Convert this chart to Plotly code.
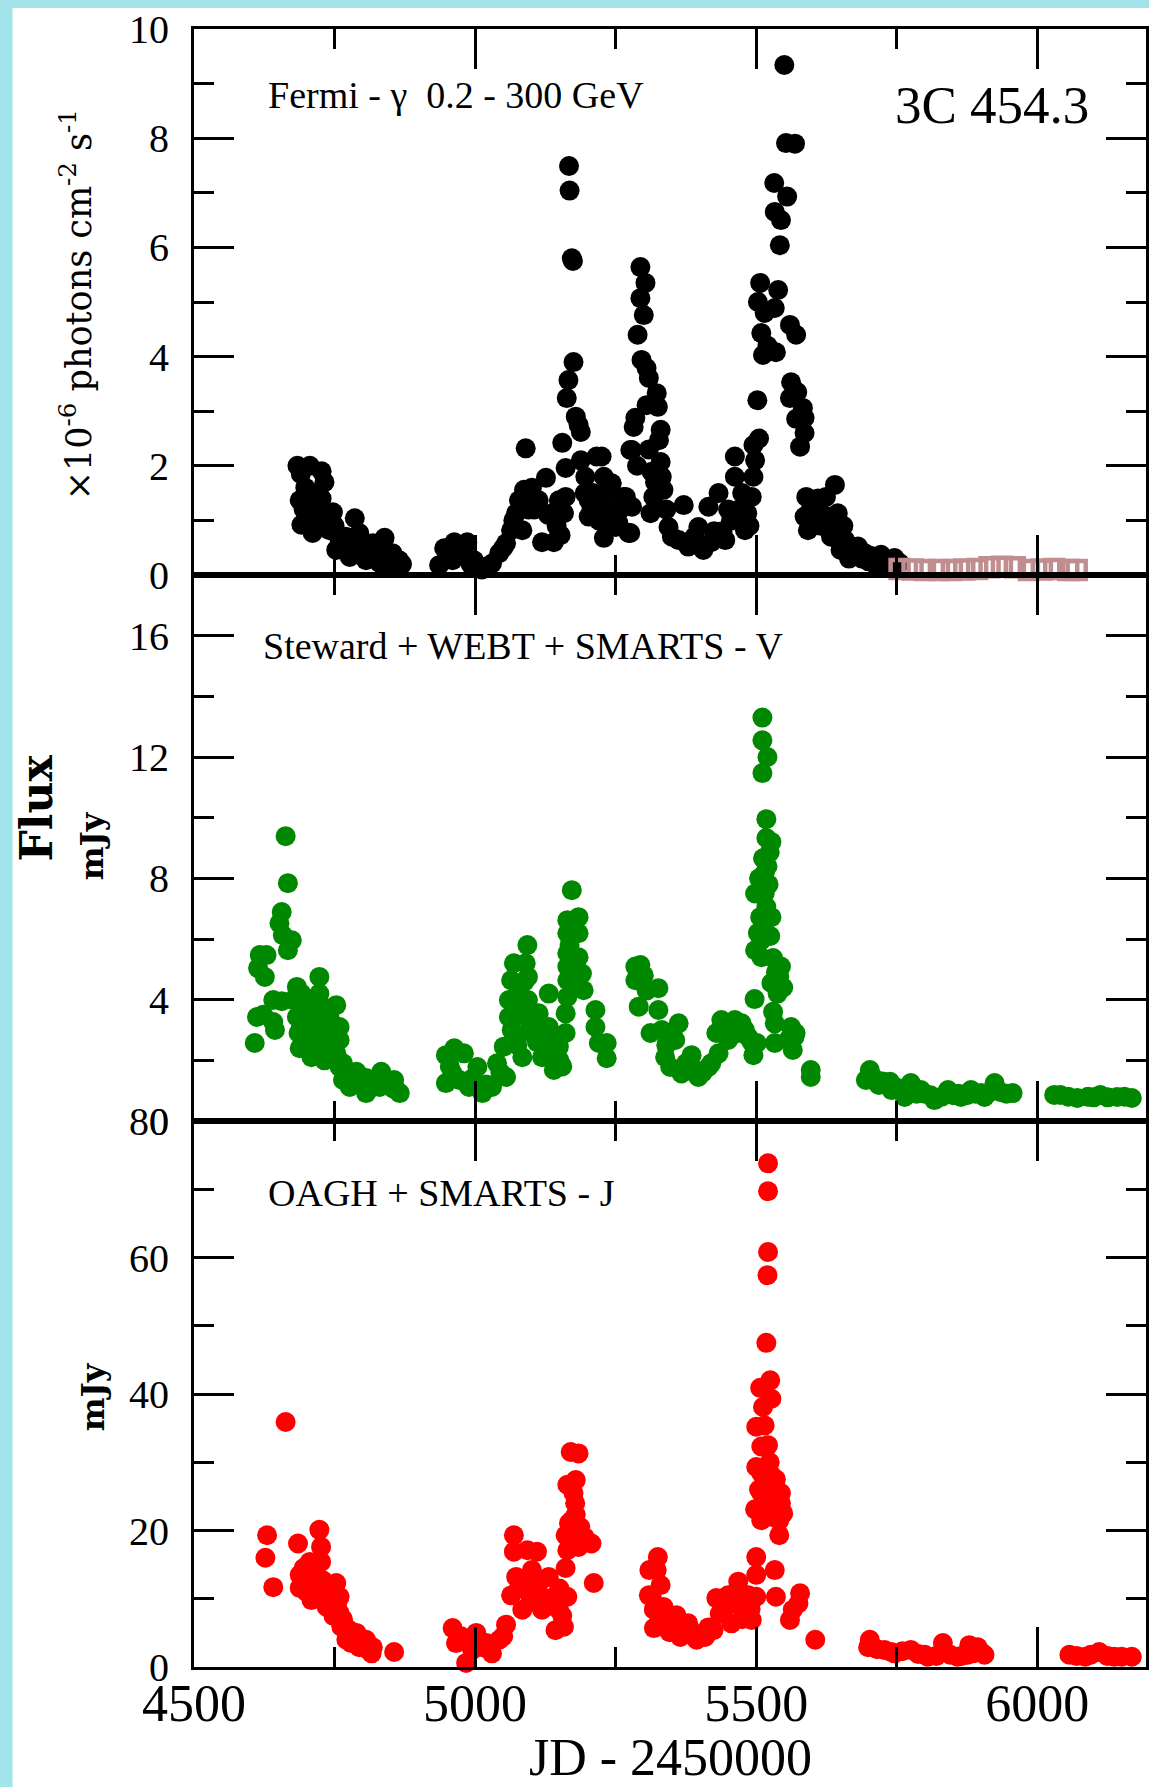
import plotly.graph_objects as go
from plotly.subplots import make_subplots

# ---------------- data ----------------
fermi_jd = [4684, 4690, 4706, 4727, 4732, 4688, 4695, 4709, 4727, 4747, 4691, 4700, 4711, 4720, 4741,
            4786, 4759, 4753, 4770, 4777, 4794, 4800, 4818, 4839, 4806, 4830, 4853, 4865, 4860, 4843, 4825,
            4936, 4945, 4963, 4986, 4960, 4984, 4998, 5007, 5019, 5030, 5043, 5055, 5064, 5073, 5078,
            5087, 5101, 5113, 5126, 5090, 5084, 5095, 5119, 5140, 5152, 5158, 5161, 5137, 5149, 5161,
            5155, 5163, 5166, 5175, 5167, 5168, 5172, 5174, 5179, 5184, 5188, 5188, 5216, 5196, 5202,
            5202, 5229, 5238, 5234, 5229, 5250, 5264, 5273, 5225, 5243, 5268, 5279, 5237, 5276, 5255,
            5210, 5220, 5276, 5282, 5285, 5279, 5289, 5294, 5303, 5294, 5300, 5296, 5305, 5309, 5323,
            5325, 5305, 5330, 5327, 5309, 5330, 5314, 5332, 5335, 5317, 5371, 5312, 5344, 5362, 5379,
            5397, 5415, 5433, 5445, 5406, 5390, 5425, 5462, 5462, 5468, 5480, 5495, 5498, 5495, 5492,
            5484, 5455, 5502, 5503, 5507, 5509, 5512, 5533, 5532, 5539, 5533, 5535, 5542, 5544, 5550,
            5553, 5569, 5555, 5560, 5571, 5562, 5573, 5560, 5583, 5586, 5571, 5586, 5578, 5640, 5589,
            5610, 5624, 5586, 5604, 5645, 5592, 5615, 5633, 5658, 5650, 5681, 5693, 5665, 5700, 5722,
            5746, 5735, 5755, 5712,
            4698, 4715, 4735, 4750, 4765, 4785, 4810, 4835, 4850, 4870, 4955, 4975, 4992, 5012, 5050,
            5068, 5082, 5105, 5130, 5145, 5195, 5207, 5222, 5245, 5258, 5288, 5320, 5340, 5350, 5385,
            5400, 5420, 5440, 5450, 5475, 5488, 5505, 5515, 5520, 5598, 5620, 5630, 5655, 5670, 5688,
            5705, 5730]
fermi_flux = [2.0, 1.85, 2.0, 1.9, 1.7, 1.37, 1.2, 1.5, 1.4, 1.15, 0.92, 1.05, 0.77, 1.1, 0.82,
              1.04, 0.64, 0.46, 0.7, 0.33, 0.77, 0.5, 0.58, 0.68, 0.27, 0.22, 0.4, 0.27, 0.15, 0.15, 0.4,
              0.18, 0.49, 0.6, 0.6, 0.27, 0.33, 0.27, 0.15, 0.15, 0.21, 0.4, 0.58, 0.82, 1.13, 1.37,
              1.56, 1.6, 1.37, 1.78, 2.32, 0.82, 1.2, 0.6, 0.6, 0.73, 1.13, 1.43, 1.13, 1.37, 1.96,
              2.42, 3.24, 3.57, 3.9, 7.49, 7.04, 5.8, 5.75, 2.9, 2.75, 2.62, 2.1, 2.17, 1.8, 1.37,
              1.07, 1.8, 1.6, 1.31, 0.68, 0.88, 1.43, 0.77, 2.17, 1.68, 1.43, 1.25, 1.13, 0.77, 0.95,
              1.5, 1.0, 2.29, 2.71, 2.88, 2.29, 4.4, 5.64, 5.35, 5.07, 4.76, 3.94, 3.79, 3.61, 3.33,
              3.08, 3.11, 2.66, 2.47, 2.3, 2.07, 1.89, 1.8, 1.56, 1.43, 1.28, 1.13, 0.88, 0.64, 0.52,
              0.88, 1.25, 1.5, 0.64, 0.46, 0.7, 0.8, 2.17, 1.8, 1.19, 0.82, 2.38, 2.1, 1.8, 1.43,
              1.13, 1.0, 3.2, 5.0, 5.35, 4.43, 4.03, 6.65, 7.18, 5.22, 4.89, 4.08, 6.04, 6.5, 9.34,
              7.91, 7.9, 6.93, 4.58, 4.4, 3.53, 3.35, 3.24, 3.06, 2.88, 2.86, 2.6, 2.35, 1.65, 1.43,
              1.4, 1.43, 1.07, 1.07, 1.13, 0.82, 0.9, 0.7, 0.64, 0.46, 0.52, 0.40, 0.3, 0.25, 0.37,
              0.31, 0.2, 0.22, 0.2,
              1.6, 1.3, 1.0, 0.9, 0.55, 0.6, 0.45, 0.35, 0.25, 0.2, 0.4, 0.45, 0.2, 0.1, 0.5,
              1.0, 1.3, 1.2, 1.1, 0.9, 1.5, 1.2, 1.4, 1.0, 1.2, 2.0, 1.7, 1.2, 0.7, 0.6,
              0.55, 0.6, 0.8, 1.2, 1.5, 0.9, 2.5, 4.8, 4.2, 1.25, 1.1, 1.0, 0.9, 0.45, 0.3,
              0.35, 0.25]

fermi_ul_jd = [5755, 5778, 5800, 5825, 5848, 5870, 5893, 5915, 5937, 5960, 5985, 6008, 6030, 6055, 6070]
fermi_ul_flux = [0.11, 0.1, 0.09, 0.09, 0.09, 0.1, 0.11, 0.14, 0.15, 0.14, 0.09, 0.1, 0.11, 0.09, 0.09]

v_jd = [4663, 4667, 4656, 4652, 4658, 4674, 4667, 4617, 4629, 4614, 4626, 4723, 4683, 4691, 4723,
        4641, 4656, 4676, 4753, 4612, 4623, 4641, 4644, 4608, 4683, 4686, 4700, 4711, 4729, 4741,
        4759, 4759, 4688, 4709, 4732, 4718, 4736, 4753, 4700, 4745, 4759, 4765, 4789, 4777, 4806,
        4806, 4830, 4833, 4856, 4860, 4866, 4795, 4815,
        4948, 4948, 4963, 4980, 4960, 4972, 4989, 5004, 5013, 5030, 5039, 5055, 5051, 5060, 5060,
        5069, 5064, 5090, 5093, 5078, 5094, 5094, 5069, 5084, 5101, 5113, 5131, 5119, 5131, 5140,
        5149, 5161, 5161, 5164, 5164, 5164, 5164, 5164, 5164, 5172, 5184, 5184, 5184, 5190, 5193,
        5214, 5214, 5220, 5234, 5234, 5080, 5105, 5075,
        5285, 5285, 5294, 5291, 5291, 5326, 5326, 5312, 5332, 5362, 5356, 5338, 5347, 5367, 5385,
        5397, 5415, 5433, 5429, 5438, 5462, 5450, 5474, 5486, 5495, 5501, 5497, 5498, 5498, 5507,
        5509, 5509, 5511, 5511, 5520, 5511, 5518, 5518, 5527, 5524, 5512, 5515, 5512, 5515, 5518,
        5527, 5512, 5530, 5544, 5541, 5527, 5538, 5530, 5533, 5533, 5562, 5568, 5565, 5597, 5597,
        5702, 5695, 5718, 5738, 5741, 5764, 5775, 5793, 5817, 5841, 5864, 5882, 5906, 5924, 5956,
        5800, 5850, 5890, 5935, 6030, 6041, 6071, 6090, 6112, 6142, 6168,
        4695, 4705, 4715, 4720, 4735, 4748, 4740, 4725, 4712, 4690, 4765, 4772, 4785, 4800, 4820,
        4845, 4852, 4955, 4995, 5020, 5045, 5065, 5072, 5085, 5088, 5098, 5110, 5125, 5140, 5150,
        5155, 5168, 5178, 5180, 5176, 5300, 5305, 5340, 5375, 5390, 5405, 5420, 5445, 5455, 5468,
        5480, 5492, 5503, 5505, 5520, 5522, 5525, 5535, 5548, 5558, 5570, 5710, 5725, 5750, 5785,
        5810, 5830, 5860, 5875, 5900, 5915, 5945, 6055, 6100, 6125, 6155]
v_flux = [9.39, 7.84, 6.89, 6.52, 6.13, 5.96, 5.63, 5.47, 5.47, 5.04, 4.75, 4.75, 4.42, 4.2, 4.2,
          3.99, 3.95, 3.99, 3.82, 3.43, 3.5, 3.26, 3.0, 2.57, 3.43, 2.9, 3.43, 3.77, 3.77, 3.43,
          3.1, 2.67, 2.4, 2.1, 2.0, 2.9, 2.57, 2.23, 2.7, 3.0, 1.78, 1.35, 1.62, 1.12, 1.42,
          0.92, 1.12, 1.62, 1.35, 1.02, 0.92, 1.2, 1.1,
          1.25, 2.17, 2.4, 2.23, 1.57, 1.35, 1.12, 1.78, 0.92, 1.12, 1.9, 1.45, 2.45, 3.43, 3.99,
          5.2, 4.64, 5.2, 5.8, 4.31, 3.99, 4.75, 2.9, 2.1, 2.9, 3.55, 4.2, 2.1, 3.1, 1.68,
          2.45, 2.9, 3.55, 4.09, 4.64, 5.09, 5.53, 6.19, 6.62, 7.61, 6.72, 6.19, 5.4, 4.86, 4.31,
          3.66, 3.1, 2.57, 2.07, 2.57, 3.5, 3.3, 2.5,
          5.09, 4.64, 5.14, 4.64, 3.77, 4.38, 3.66, 2.9, 3.0, 3.22, 2.67, 2.1, 1.78, 1.57, 2.17,
          1.45, 1.78, 2.23, 2.9, 3.33, 3.33, 2.67, 3.22, 2.77, 2.17, 2.57, 4.02, 5.63, 7.5, 6.72,
          5.96, 5.4, 13.3, 12.55, 12.0, 11.47, 9.95, 9.33, 9.2, 8.86, 8.66, 8.17, 7.84, 7.5, 7.06,
          6.72, 6.4, 5.37, 5.09, 4.75, 4.55, 4.2, 3.6, 3.22, 2.57, 3.1, 2.77, 2.34, 1.68, 1.45,
          1.68, 1.35, 1.19, 1.29, 1.02, 0.79, 1.25, 1.02, 0.69, 1.02, 0.79, 1.02, 0.79, 1.25, 0.92,
          0.9, 0.85, 0.9, 0.95, 0.86, 0.86, 0.76, 0.8, 0.86, 0.79, 0.76,
          3.8, 3.0, 2.6, 3.4, 3.2, 2.6, 2.2, 2.3, 3.2, 3.1, 1.9, 1.5, 1.3, 1.3, 1.25,
          1.3, 1.1, 1.8, 1.4, 1.2, 1.6, 3.0, 4.0, 3.5, 4.6, 3.2, 2.6, 2.4, 2.8, 2.0,
          1.8, 5.8, 5.2, 4.5, 6.4, 4.8, 4.3, 2.5, 1.9, 1.7, 1.6, 1.9, 3.0, 3.1, 2.9,
          3.0, 2.6, 6.2, 8.0, 8.4, 7.8, 6.1, 4.9, 4.4, 2.7, 2.9, 1.4, 1.3, 1.1, 0.9,
          0.85, 0.8, 0.9, 0.85, 0.92, 0.95, 0.9, 0.8, 0.78, 0.78, 0.8]

j_jd = [4663, 4630, 4627, 4641, 4685, 4723, 4726, 4726, 4706, 4688, 4688, 4709, 4729, 4753, 4759,
        4736, 4759, 4762, 4771, 4789, 4806, 4794, 4816, 4818, 4856, 4700, 4715, 4745, 4780,
        4960, 4966, 4984, 4987, 5002, 5013, 5030, 5043, 5055, 5069, 5069, 5073, 5064, 5084, 5090,
        5093, 5110, 5101, 5113, 5119, 5131, 5140, 5149, 5143, 5158, 5164, 5161, 5164, 5161, 5167,
        5179, 5175, 5164, 5179, 5170, 5184, 5184, 5184, 5207, 5211, 5172,
        5310, 5309, 5318, 5318, 5325, 5323, 5330, 5314, 5335, 5358, 5338, 5346, 5365, 5379, 5394,
        5409, 5424, 5429, 5445, 5456, 5468, 5462, 5486, 5480, 5492, 5500,
        5521, 5521, 5521, 5520, 5518, 5525, 5507, 5527, 5512, 5500, 5515, 5521, 5509, 5524, 5500,
        5527, 5509, 5544, 5521, 5509, 5544, 5498, 5515, 5509, 5541, 5527, 5541, 5500, 5500, 5533,
        5535, 5560, 5565, 5578, 5575, 5605,
        5702, 5699, 5728, 5746, 5775, 5788, 5805, 5832, 5835, 5858, 5879, 5894, 5906, 5876,
        6057, 6085, 6110, 6137, 6168,
        4695, 4700, 4712, 4720, 4735, 4740, 4748, 4755, 4765, 4775, 4785, 4800, 4810, 4975, 4995,
        5020, 5050, 5078, 5085, 5098, 5105, 5115, 5125, 5135, 5150, 5155, 5178, 5187, 5195, 5340,
        5350, 5372, 5385, 5400, 5415, 5435, 5450, 5470, 5475, 5490, 5505, 5530, 5535, 5538, 5548,
        5715, 5740, 5760, 5800, 5820, 5845, 5865, 5885, 5900, 6070, 6095, 6125, 6150]
j_flux = [35.9, 19.3, 16.0, 11.7, 18.1, 20.1, 17.6, 15.4, 15.4, 13.5, 11.6, 9.8, 12.7, 12.3, 10.3,
          8.8, 7.9, 5.9, 4.0, 5.0, 4.0, 2.9, 2.0, 2.9, 2.2, 13.0, 12.0, 10.0, 3.5,
          5.7, 3.5, 0.6, 3.5, 5.0, 2.9, 2.0, 4.0, 6.2, 19.3, 16.9, 13.2, 10.5, 8.4, 12.3,
          17.1, 16.9, 14.2, 10.8, 8.4, 13.2, 10.3, 8.4, 5.4, 5.9, 10.3, 14.5, 17.1, 19.3, 21.1,
          22.3, 25.5, 26.7, 27.4, 31.5, 31.3, 19.6, 17.6, 18.1, 12.3, 21.5,
          14.2, 10.5, 8.4, 5.7, 16.1, 14.2, 12.0, 10.3, 8.8, 7.6, 5.9, 5.1, 4.4, 6.4, 4.0,
          4.4, 5.4, 10.1, 8.8, 6.4, 12.5, 10.8, 10.5, 8.5, 6.9, 10.3,
          73.8, 69.7, 60.8, 57.4, 47.5, 42.0, 40.9, 39.3, 38.1, 35.2, 35.4, 32.5, 32.3, 30.0, 29.3,
          28.1, 28.4, 25.5, 25.9, 25.5, 24.0, 23.1, 23.5, 21.5, 21.5, 22.0, 19.3, 16.1, 13.5, 14.2,
          10.3, 6.9, 8.4, 10.8, 9.3, 4.0,
          4.0, 2.9, 2.5, 2.0, 2.5, 1.9, 1.5, 3.5, 2.2, 1.5, 3.2, 2.9, 1.8, 1.8,
          1.8, 1.5, 2.2, 1.5, 1.5,
          14.5, 11.0, 13.8, 11.5, 11.0, 9.0, 7.5, 9.5, 7.0, 5.5, 4.5, 3.8, 2.5, 4.5, 2.5,
          3.5, 4.5, 11.5, 12.5, 9.5, 11.0, 12.5, 10.0, 9.0, 11.5, 7.5, 24.0, 20.5, 19.0, 7.0,
          5.5, 5.0, 5.2, 4.8, 5.8, 7.8, 10.5, 9.0, 7.0, 8.5, 26.0, 24.5, 27.5, 22.5, 22.5,
          2.6, 2.2, 2.3, 1.8, 1.6, 1.8, 1.6, 2.0, 2.2, 1.6, 1.8, 1.6, 1.5]

x_tickvals = [4500, 5000, 5500, 6000]
x_ticktext = ["4500", "5000", "5500", "6000"]
top_tickvals = [0, 2, 4, 6, 8, 10]
mid_tickvals = [0, 4, 8, 12, 16]
bot_tickvals = [0, 20, 40, 60, 80]

# ---------------- figure ----------------
W, H = 1149, 1787
L, R, T, B = 194, 0, 29, 120
PW, PH = W - L - R, H - T - B

def px_x(p):
    return (p - L) / PW

def px_y(p):
    return (H - B - p) / PH

fig = make_subplots(rows=3, cols=1, shared_xaxes=True, vertical_spacing=0)

mk = dict(size=20, line=dict(width=0))
fig.add_trace(go.Scatter(x=fermi_jd, y=fermi_flux, mode="markers", cliponaxis=False,
                         marker=dict(color="black", **mk)), row=1, col=1)
fig.add_trace(go.Scatter(x=fermi_ul_jd, y=fermi_ul_flux, mode="markers", cliponaxis=False,
                         marker=dict(symbol="square-open", size=18, color="#C08E8E",
                                     line=dict(width=4.5, color="#C08E8E"))), row=1, col=1)
fig.add_trace(go.Scatter(x=v_jd, y=v_flux, mode="markers", cliponaxis=False,
                         marker=dict(color="#008800", **mk)), row=2, col=1)
fig.add_trace(go.Scatter(x=j_jd, y=j_flux, mode="markers", cliponaxis=False,
                         marker=dict(color="#FF0000", **mk)), row=3, col=1)

serif = "Liberation Serif"
axis_common = dict(showline=True, linewidth=3, linecolor="black", mirror="ticks",
                   ticks="inside", tickwidth=3, tickcolor="black", showgrid=False,
                   zeroline=False)

x_max = 4500 + PW / 0.564
for r in (1, 2, 3):
    fig.update_xaxes(range=[4500, x_max], tickvals=x_tickvals, ticktext=x_ticktext,
                     ticklen=40, showticklabels=(r == 3),
                     minor=dict(dtick=250, tick0=4500, ticklen=20, tickwidth=3,
                                ticks="inside", tickcolor="black"),
                     tickfont=dict(family=serif, size=52, color="black"),
                     ticklabelstandoff=-11, row=r, col=1, **axis_common)

yfont = dict(family=serif, size=40, color="black")
fig.update_yaxes(range=[0, 10], tickvals=top_tickvals, ticklen=40, tickfont=yfont,
                 minor=dict(dtick=1, tick0=0, ticklen=20, tickwidth=3, ticks="inside",
                            tickcolor="black"),
                 ticklabelstandoff=14, row=1, col=1, **axis_common)
fig.update_yaxes(range=[0, 18], tickvals=mid_tickvals, ticklen=40, tickfont=yfont,
                 minor=dict(dtick=2, tick0=0, ticklen=20, tickwidth=3, ticks="inside",
                            tickcolor="black"),
                 ticklabelstandoff=14, row=2, col=1, **axis_common)
fig.update_yaxes(range=[0, 80], tickvals=bot_tickvals, ticklen=40, tickfont=yfont,
                 minor=dict(dtick=10, tick0=0, ticklen=20, tickwidth=3, ticks="inside",
                            tickcolor="black"),
                 ticklabelstandoff=14, row=3, col=1, **axis_common)

ann = []
def add_text(text, x, y, size, xanchor="left", family=serif, angle=0, bold=False):
    ann.append(dict(text=("<b>%s</b>" % text) if bold else text,
                    x=px_x(x), y=px_y(y), xref="paper", yref="paper",
                    xanchor=xanchor, yanchor="middle", showarrow=False, textangle=angle,
                    font=dict(family=family, size=size, color="black")))

add_text("Fermi - γ  0.2 - 300 GeV", 266, 95, 38)
add_text("3C 454.3", 895, 105, 53)
add_text("Steward + WEBT + SMARTS - V", 261, 646, 38)
add_text("OAGH + SMARTS - J", 266, 1193, 38)
add_text("JD - 2450000", 672, 1757, 52, xanchor="center")
add_text("×10<sup>-6</sup> photons cm<sup>-2</sup> s<sup>-1</sup>", 76, 305, 35,
         xanchor="center", family="DejaVu Serif", angle=-90)
add_text("Flux", 36, 808, 44, xanchor="center", family="DejaVu Serif", angle=-90, bold=True)
add_text("mJy", 92, 846, 32, xanchor="center", family="DejaVu Serif", angle=-90, bold=True)
add_text("mJy", 93, 1397, 32, xanchor="center", family="DejaVu Serif", angle=-90, bold=True)

fig.update_layout(
    width=W, height=H, margin=dict(l=L, r=R, t=T, b=B, pad=0),
    paper_bgcolor="#A3E3EA", plot_bgcolor="white", showlegend=False,
    annotations=ann,
    shapes=[dict(type="rect", xref="paper", yref="paper", layer="below",
                 x0=px_x(12), x1=px_x(W + 20), y0=px_y(H + 40), y1=px_y(8),
                 fillcolor="white", line=dict(width=0))],
)

fig.write_html("out.html", config={"displayModeBar": False},
               post_script="document.body.style.margin='0px';document.body.style.overflow='hidden';")
